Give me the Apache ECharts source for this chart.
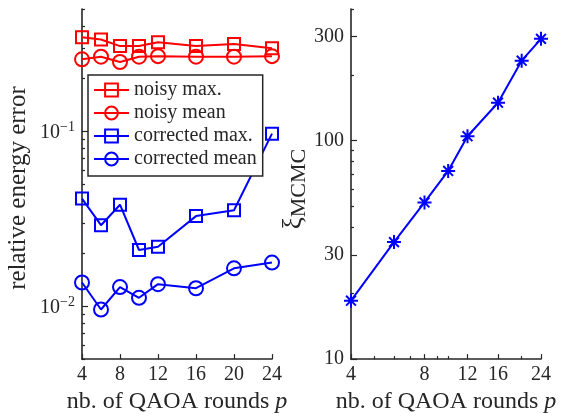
<!DOCTYPE html>
<html>
<head>
<meta charset="utf-8">
<script src="https://cdn.jsdelivr.net/npm/echarts@6/dist/echarts.min.js"></script>
<style>
  html, body { margin: 0; padding: 0; background: #fff; }
  #main { width: 569px; height: 419px; }
</style>
</head>
<body>
<div id="main"></div>
<script>
// QAOA rounds p
const rounds = [4, 6, 8, 10, 12, 16, 20, 24];

// left panel: relative energy error
const noisyMax = [0.345, 0.335, 0.307, 0.307, 0.323, 0.307, 0.316, 0.298];
const noisyMean = [0.258, 0.267, 0.249, 0.267, 0.269, 0.267, 0.267, 0.269];
const correctedMax = [0.0413, 0.0291, 0.0381, 0.0210, 0.0219, 0.0328, 0.0354, 0.097];
const correctedMean = [0.0137, 0.0096, 0.0129, 0.0112, 0.0134, 0.0127, 0.0165, 0.0178];

// right panel: xi_MCMC
const xiMCMC = [18.5, 34.3, 52.1, 72.6, 104.7, 149, 232, 292];

// ticks
const leftXTicks = [4, 8, 12, 16, 20, 24];
const errMajor = [0.01, 0.1];
const errMinor = [0.005, 0.006, 0.007, 0.008, 0.009, 0.02, 0.03, 0.04, 0.05, 0.06, 0.07, 0.08, 0.09, 0.2, 0.3, 0.4, 0.5];
const rightXMajor = [4, 8, 12, 16, 24];
const rightXMinor = [5, 6, 7, 9, 10, 20];
const xiMajor = [10, 30, 100, 300];
const xiMinor = [20, 40, 50, 60, 70, 80, 90, 200, 400];

const lg = Math.log10;
const serif = 'Liberation Serif';
const ink = '#262626';
const red = '#ff0000';
const blue = '#0000ff';

const axisLine = { show: true, onZero: false, lineStyle: { color: ink, width: 1.6 } };
const tickLabel = { color: ink, fontFamily: serif, fontSize: 20 };
const titleStyle = {
    color: ink, fontFamily: serif, fontSize: 24,
    rich: { i: { fontFamily: serif, fontSize: 24, fontStyle: 'italic', color: ink } }
};

function series(name, xs, ys, color, symbol, size, xi, yi, fx) {
    return {
        name: name, type: 'line',
        xAxisIndex: xi, yAxisIndex: yi,
        data: xs.map((x, i) => [fx(x), lg(ys[i])]),
        symbol: symbol, symbolSize: size,
        lineStyle: { color: color, width: 2 },
        itemStyle: { color: 'rgba(0,0,0,0)', borderColor: color, borderWidth: 2 },
        emphasis: { disabled: true },
        z: 3
    };
}

// minor tick overlay axis (no line, no labels)
function minorAxis(grid, pos, min, max, ticks) {
    return {
        gridIndex: grid, type: 'value', position: pos, min: min, max: max,
        axisLine: { show: false, onZero: false },
        axisLabel: { show: false },
        splitLine: { show: false },
        axisTick: { show: true, inside: true, length: 3, lineStyle: { color: ink, width: 1.2 }, customValues: ticks }
    };
}

const star = 'path://M10,0L10,20M0,10L20,10M3,3L17,17M3,17L17,3';

let option = {
    animation: false,
    backgroundColor: '#fff',
    grid: [
        { left: 82, top: 9, width: 190, height: 353 },
        { left: 351, top: 9, width: 190, height: 353 }
    ],
    legend: {
        left: 88, top: 75,
        orient: 'vertical',
        data: ['noisy max.', 'noisy mean', 'corrected max.', 'corrected mean'],
        itemWidth: 35, itemHeight: 16, itemGap: 3,
        padding: [5, 6, 7, 5],
        backgroundColor: '#fff',
        borderColor: ink, borderWidth: 1.5, borderRadius: 0,
        textStyle: { color: ink, fontFamily: serif, fontSize: 20 }
    },
    xAxis: [
        {
            gridIndex: 0, type: 'value', position: 'bottom', min: 4, max: 24,
            axisLine: axisLine,
            axisTick: { inside: true, length: 5, lineStyle: { color: ink, width: 1.2 }, customValues: leftXTicks },
            axisLabel: Object.assign({ margin: 6, customValues: leftXTicks }, tickLabel),
            splitLine: { show: false },
            name: 'nb. of QAOA rounds {i|p}', nameLocation: 'middle', nameGap: 30,
            nameTextStyle: titleStyle
        },
        {
            gridIndex: 1, type: 'value', position: 'bottom', min: lg(4), max: lg(24),
            axisLine: axisLine,
            axisTick: { inside: true, length: 5, lineStyle: { color: ink, width: 1.2 }, customValues: rightXMajor.map(lg) },
            axisLabel: Object.assign({
                margin: 6, customValues: rightXMajor.map(lg),
                formatter: v => String(Math.round(Math.pow(10, v)))
            }, tickLabel),
            splitLine: { show: false },
            name: 'nb. of QAOA rounds {i|p}', nameLocation: 'middle', nameGap: 30,
            nameTextStyle: titleStyle
        },
        minorAxis(1, 'bottom', lg(4), lg(24), rightXMinor.map(lg))
    ],
    yAxis: [
        {
            gridIndex: 0, type: 'value', position: 'left', min: lg(0.005), max: lg(0.5),
            axisLine: axisLine,
            axisTick: { inside: true, length: 6, lineStyle: { color: ink, width: 1.2 }, customValues: errMajor.map(lg) },
            axisLabel: {
                margin: 7, customValues: errMajor.map(lg),
                formatter: v => '{b|10}{s|\u2212' + Math.round(-v) + '}',
                rich: {
                    b: { color: ink, fontFamily: serif, fontSize: 20, lineHeight: 22, verticalAlign: 'bottom' },
                    s: { color: ink, fontFamily: serif, fontSize: 14, lineHeight: 22, verticalAlign: 'top' }
                }
            },
            splitLine: { show: false },
            name: 'relative energy error', nameLocation: 'middle', nameGap: 51,
            nameTextStyle: { color: ink, fontFamily: serif, fontSize: 25, padding: [0, 8, 0, 0] }
        },
        minorAxis(0, 'left', lg(0.005), lg(0.5), errMinor.map(lg)),
        {
            gridIndex: 1, type: 'value', position: 'left', min: lg(10), max: lg(400),
            axisLine: axisLine,
            axisTick: { inside: true, length: 6, lineStyle: { color: ink, width: 1.2 }, customValues: xiMajor.map(lg) },
            axisLabel: Object.assign({
                margin: 7, customValues: xiMajor.map(lg),
                formatter: v => String(Math.round(Math.pow(10, v)))
            }, tickLabel),
            splitLine: { show: false },
            name: '{x|\u03be}{m|MCMC}', nameLocation: 'middle', nameGap: 23,
            nameTextStyle: {
                padding: [0, 10, 0, 0],
                rich: {
                    x: { color: ink, fontFamily: serif, fontSize: 27, lineHeight: 30, verticalAlign: 'top' },
                    m: { color: ink, fontFamily: serif, fontSize: 22, lineHeight: 22, verticalAlign: 'bottom' }
                }
            }
        },
        minorAxis(1, 'left', lg(10), lg(400), xiMinor.map(lg))
    ],
    series: [
        series('noisy max.', rounds, noisyMax, red, 'rect', 12, 0, 0, x => x),
        series('noisy mean', rounds, noisyMean, red, 'circle', 14, 0, 0, x => x),
        series('corrected max.', rounds, correctedMax, blue, 'rect', 12, 0, 0, x => x),
        series('corrected mean', rounds, correctedMean, blue, 'circle', 14, 0, 0, x => x),
        Object.assign(series('xi', rounds, xiMCMC, blue, star, 14, 1, 2, lg), {
            itemStyle: { color: blue, borderColor: blue, borderWidth: 2 }
        })
    ]
};

let myChart = echarts.init(document.getElementById('main'));
myChart.setOption(option);
</script>
</body>
</html>
